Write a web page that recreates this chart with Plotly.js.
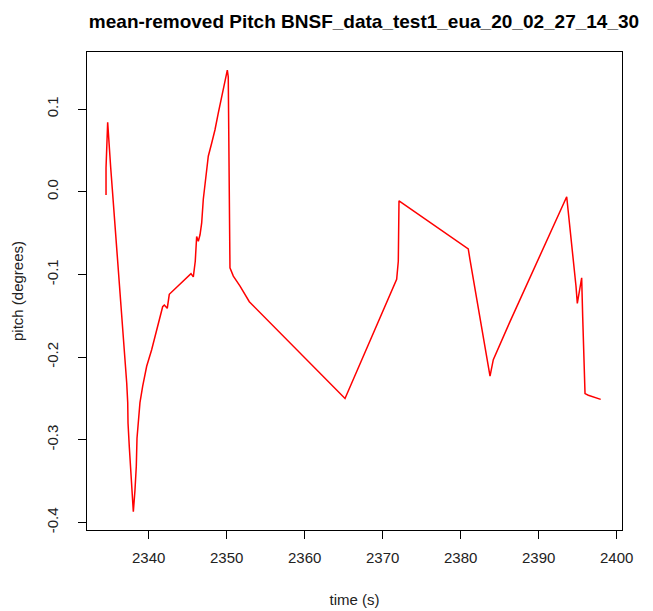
<!DOCTYPE html>
<html>
<head>
<meta charset="utf-8">
<script src="https://cdn.plot.ly/plotly-3.0.1.min.js"></script>
<style>html,body{margin:0;padding:0;background:#fff;}#chart{width:653px;height:611px;}</style>
</head>
<body>
<div id="chart"></div>
<script>
// time (s)
const timeS = [2334.53,2334.53,2334.74,2334.91,2335.13,2335.33,2335.55,2335.77,2335.97,2336.19,
  2336.41,2336.62,2336.79,2336.96,2337.18,2337.31,2337.35,2337.51,2337.69,2337.86,
  2338.03,2338.24,2338.41,2338.50,2338.72,2338.88,2339.23,2339.74,2340.38,2341.03,
  2341.45,2341.79,2342.00,2342.38,2342.64,2345.42,2345.72,2345.97,2346.15,2346.36,
  2346.58,2346.79,2347.00,2347.22,2347.44,2347.64,2348.08,2348.50,2348.92,2349.36,
  2349.78,2350.08,2350.20,2350.29,2350.42,2350.85,2351.71,2352.90,2365.17,2371.79,
  2372.00,2372.09,2380.97,2381.19,2383.76,2384.18,2386.32,2393.59,2393.92,2394.23,
  2394.53,2394.78,2394.95,2395.21,2395.51,2395.64,2395.81,2395.94,2396.36,2397.95];
// mean-removed pitch (degrees)
const pitchDeg = [-0.004,0.029,0.084,0.053,0.029,0.004,-0.024,-0.048,-0.076,-0.102,
  -0.127,-0.152,-0.177,-0.203,-0.231,-0.255,-0.280,-0.308,-0.332,-0.357,
  -0.387,-0.361,-0.332,-0.298,-0.268,-0.255,-0.235,-0.211,-0.191,-0.167,
  -0.151,-0.139,-0.137,-0.141,-0.124,-0.099,-0.103,-0.084,-0.054,-0.060,
  -0.052,-0.038,-0.009,0.011,0.023,0.043,0.059,0.075,0.095,0.116,
  0.136,0.147,0.139,-0.024,-0.092,-0.102,-0.114,-0.133,-0.250,-0.106,
  -0.084,-0.011,-0.069,-0.082,-0.223,-0.203,-0.157,-0.006,-0.034,-0.066,
  -0.094,-0.114,-0.135,-0.118,-0.104,-0.151,-0.205,-0.244,-0.246,-0.251];
const xTickVals = [2340,2350,2360,2370,2380,2390,2400];
const xTickText = ["2340","2350","2360","2370","2380","2390","2400"];
const yTickVals = [-0.4,-0.3,-0.2,-0.1,0.0,0.1];
const yTickText = ["-0.4","-0.3","-0.2","-0.1","0.0","0.1"];

const font = "Liberation Sans, Arial, sans-serif";
const trace = {
  x: timeS, y: pitchDeg, type: "scatter", mode: "lines",
  line: {color: "#ff0000", width: 1.5}, hoverinfo: "skip"
};
const layout = {
  width: 653, height: 611,
  margin: {l: 87, r: 31, t: 52, b: 81},
  paper_bgcolor: "#fff", plot_bgcolor: "#fff",
  showlegend: false,
  font: {family: font, color: "#222", size: 14},
  title: {text: "<b>mean-removed Pitch BNSF_data_test1_eua_20_02_27_14_30</b>",
    font: {family: font, size: 19, color: "#000"},
    x: 364/653, xref: "container", xanchor: "center", y: 0.965, yref: "container", yanchor: "middle"},
  xaxis: {
    range: [2332.09, 2400.68], showgrid: false, zeroline: false,
    showline: true, mirror: true, linecolor: "#000", linewidth: 1,
    ticks: "outside", ticklen: 8, tickcolor: "#000", tickwidth: 1,
    tickvals: xTickVals, ticktext: xTickText, ticklabelstandoff: 6,
    tickfont: {family: font, size: 15, color: "#222"},
    title: {text: "time (s)", font: {family: font, size: 15, color: "#222"}, standoff: 29}
  },
  yaxis: {
    range: [-0.409, 0.169], showgrid: false, zeroline: false,
    showline: true, mirror: true, linecolor: "#000", linewidth: 1,
    ticks: "outside", ticklen: 8, tickcolor: "#000", tickwidth: 1,
    tickvals: yTickVals, ticktext: yTickText, tickangle: -90, ticklabelstandoff: 14,
    tickfont: {family: font, size: 15, color: "#222"},
    title: {text: "pitch (degrees)", font: {family: font, size: 15, color: "#222"}, standoff: 16}
  }
};
Plotly.newPlot("chart", [trace], layout, {displayModeBar: false, staticPlot: true});
</script>
</body>
</html>
